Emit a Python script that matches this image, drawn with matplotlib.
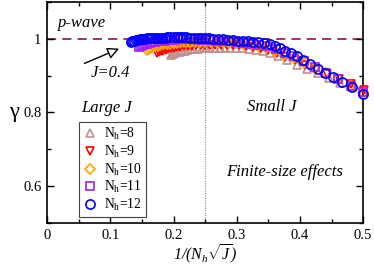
import matplotlib
matplotlib.use("Agg")
import matplotlib.pyplot as plt

plt.rcParams['font.family'] = ['Liberation Serif', 'DejaVu Serif']
plt.rcParams['mathtext.fontset'] = 'custom'
plt.rcParams['mathtext.rm'] = 'Liberation Serif:italic'
plt.rcParams['mathtext.it'] = 'Liberation Serif:italic'
plt.rcParams['mathtext.sf'] = 'Liberation Serif'
plt.rcParams['mathtext.bf'] = 'Liberation Serif:bold'

# ---------------- data ----------------
labels = ['N$_\\mathsf{h}$=8', 'N$_\\mathsf{h}$=9', 'N$_\\mathsf{h}$=10',
          'N$_\\mathsf{h}$=11', 'N$_\\mathsf{h}$=12']

x8 = [0.196, 0.199, 0.202, 0.206, 0.210, 0.214, 0.218, 0.223, 0.228, 0.233, 0.239,
      0.245, 0.251, 0.258, 0.265, 0.273, 0.281, 0.290, 0.299, 0.309, 0.319, 0.330,
      0.341, 0.353, 0.366, 0.380, 0.395, 0.411, 0.428, 0.446, 0.464, 0.483, 0.500]
g8 = [0.957, 0.959, 0.961, 0.963, 0.965, 0.967, 0.968, 0.970, 0.971, 0.972, 0.973,
      0.974, 0.975, 0.975, 0.976, 0.976, 0.976, 0.976, 0.975, 0.974, 0.972, 0.970,
      0.966, 0.960, 0.952, 0.941, 0.930, 0.918, 0.906, 0.893, 0.880, 0.868, 0.855]

x9 = [0.174, 0.177, 0.180, 0.184, 0.188, 0.192, 0.196, 0.201, 0.206, 0.211, 0.217,
      0.223, 0.229, 0.236, 0.243, 0.250, 0.258, 0.266, 0.275, 0.284, 0.294, 0.304,
      0.315, 0.326, 0.338, 0.350, 0.363, 0.377, 0.392, 0.408, 0.425, 0.443, 0.462,
      0.481, 0.501]
g9 = [0.961, 0.964, 0.966, 0.968, 0.970, 0.972, 0.974, 0.975, 0.977, 0.978, 0.979,
      0.980, 0.981, 0.982, 0.983, 0.983, 0.984, 0.984, 0.984, 0.983, 0.983, 0.982,
      0.980, 0.978, 0.975, 0.970, 0.962, 0.951, 0.941, 0.930, 0.918, 0.905, 0.891,
      0.877, 0.861]

x10 = [0.158, 0.161, 0.164, 0.167, 0.171, 0.175, 0.179, 0.184, 0.189, 0.194, 0.200,
       0.206, 0.212, 0.219, 0.226, 0.234, 0.242, 0.250, 0.259, 0.268, 0.278, 0.288,
       0.299, 0.310, 0.322, 0.334, 0.347, 0.361, 0.375, 0.390, 0.406, 0.423, 0.441,
       0.460, 0.480, 0.500]
g10 = [0.969, 0.972, 0.975, 0.977, 0.979, 0.981, 0.983, 0.985, 0.986, 0.987, 0.988,
       0.989, 0.990, 0.991, 0.991, 0.992, 0.992, 0.992, 0.992, 0.991, 0.990, 0.989,
       0.988, 0.986, 0.983, 0.979, 0.974, 0.966, 0.957, 0.947, 0.935, 0.921, 0.907,
       0.890, 0.872, 0.854]

x11 = [0.146, 0.149, 0.152, 0.155, 0.158, 0.162, 0.166, 0.170, 0.175, 0.180, 0.185,
       0.190, 0.196, 0.202, 0.208, 0.214, 0.221, 0.228, 0.235, 0.243, 0.251, 0.260,
       0.269, 0.279, 0.289, 0.300, 0.311, 0.323, 0.335, 0.348, 0.362, 0.376, 0.391,
       0.407, 0.424, 0.442, 0.460, 0.480, 0.500]
g11 = [0.978, 0.981, 0.983, 0.985, 0.987, 0.989, 0.990, 0.992, 0.993, 0.994, 0.995,
       0.996, 0.997, 0.997, 0.998, 0.998, 0.998, 0.998, 0.998, 0.997, 0.997, 0.996,
       0.995, 0.994, 0.993, 0.991, 0.989, 0.987, 0.984, 0.979, 0.971, 0.962, 0.952,
       0.939, 0.924, 0.908, 0.892, 0.873, 0.855]

x12 = [0.132, 0.135, 0.138, 0.141, 0.144, 0.147, 0.150, 0.154, 0.158, 0.162, 0.166,
       0.170, 0.174, 0.178, 0.182, 0.186, 0.190, 0.195, 0.200, 0.205, 0.210, 0.215,
       0.220, 0.226, 0.232, 0.238, 0.244, 0.250, 0.256, 0.263, 0.270, 0.278, 0.286,
       0.294, 0.302, 0.310, 0.318, 0.326, 0.334, 0.343, 0.352, 0.360, 0.368, 0.377,
       0.386, 0.395, 0.405, 0.416, 0.428, 0.440, 0.453, 0.467, 0.482, 0.499]
g12 = [0.991, 0.993, 0.995, 0.996, 0.997, 0.998, 0.999, 1.000, 1.001, 1.001, 1.002,
       1.002, 1.003, 1.003, 1.003, 1.003, 1.004, 1.004, 1.004, 1.004, 1.004, 1.004,
       1.004, 1.003, 1.003, 1.003, 1.002, 1.002, 1.001, 1.000, 0.999, 0.998, 0.997,
       0.996, 0.995, 0.994, 0.993, 0.992, 0.991, 0.989, 0.985, 0.980, 0.975, 0.968,
       0.961, 0.953, 0.943, 0.931, 0.918, 0.906, 0.895, 0.882, 0.868, 0.851]

series_x = [x8, x9, x10, x11, x12]
series_g = [g8, g9, g10, g11, g12]
markers = ['^', 'v', 'D', 's', 'o']
colors = ['#c09090', '#ff0000', '#ffa500', '#a020f0', '#0000ff']
msizes = [6.2, 6.2, 4.8, 5.2, 6.6]

# ---------------- figure ----------------
fig = plt.figure(figsize=(3.74, 2.68), dpi=100)
ax = fig.add_axes([0.126, 0.168, 0.845, 0.825])

ax.axhline(1.0, color='#800040', lw=1.1, ls=(0, (6, 4)), zorder=1)
ax.axvline(0.25, color='#888888', lw=0.8, ls=(0, (1, 1.2)), zorder=1)

for xs, gs, m, c, ms, lab in zip(series_x, series_g, markers, colors, msizes, labels):
    ax.plot(xs, gs, ls='none', marker=m, ms=ms, mfc='none', mec=c, mew=1.2,
            label=lab, zorder=3, clip_on=False)

ax.set_xlim(0, 0.5)
ax.set_ylim(0.5, 1.1)
ax.set_xticks([0, 0.1, 0.2, 0.3, 0.4, 0.5])
ax.set_xticklabels(['0', '0.1', '0.2', '0.3', '0.4', '0.5'])
ax.set_xticks([0.05, 0.15, 0.25, 0.35, 0.45], minor=True)
ax.set_yticks([0.6, 0.8, 1.0])
ax.set_yticklabels(['0.6', '0.8', '1'])
ax.set_yticks([0.5, 0.7, 0.9, 1.1], minor=True)
ax.tick_params(which='both', direction='in', top=True, right=True, labelsize=10.5,
               width=1.0, pad=4)
ax.tick_params(which='major', length=5)
ax.tick_params(which='minor', length=3)
for s in ax.spines.values():
    s.set_linewidth(1.2)

ax.set_xlabel(r'$1/(N_h\sqrt{J})$', fontsize=11.5, labelpad=1)
ax.set_ylabel('γ', fontsize=16, rotation=0, labelpad=7, va='center')

fs_t = 12
ax.text(0.056, 1.043, 'p-wave', style='italic', fontsize=fs_t, ha='center', va='center')
ax.text(0.10, 0.907, 'J=0.4', style='italic', fontsize=fs_t, ha='center', va='center')
ax.text(0.094, 0.813, 'Large J', style='italic', fontsize=fs_t, ha='center', va='center')
ax.text(0.356, 0.815, 'Small J', style='italic', fontsize=fs_t, ha='center', va='center')
ax.text(0.375, 0.638, 'Finite-size effects', style='italic', fontsize=fs_t,
        ha='center', va='center')
ax.annotate('', xy=(0.118, 0.976), xytext=(0.055, 0.930),
            arrowprops=dict(arrowstyle='-|>,head_length=0.7,head_width=0.35',
                            fc='white', ec='black', lw=1.0))

leg = ax.legend(loc='upper left', bbox_to_anchor=(0.102, 0.457), fontsize=9.8,
                frameon=True, fancybox=False, edgecolor='#444444', framealpha=1,
                handlelength=1.0, handletextpad=0.5, borderpad=0.3,
                labelspacing=0.12, borderaxespad=0)
leg.get_frame().set_linewidth(0.8)

fig.savefig('out.png', dpi=100)
